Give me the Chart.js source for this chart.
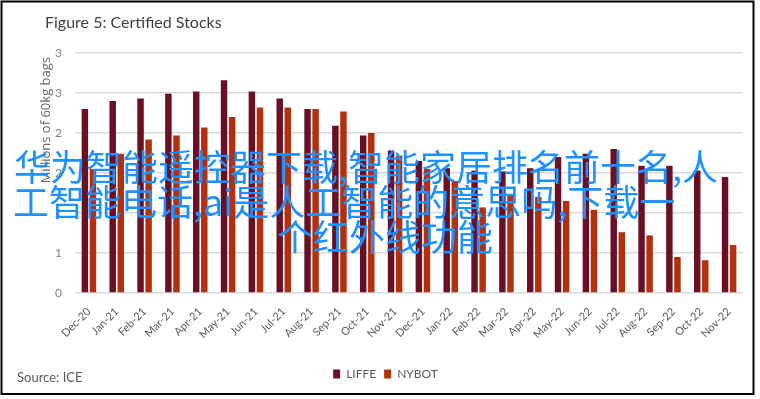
<!DOCTYPE html>
<html>
<head>
<meta charset="utf-8">
<script src="https://cdn.jsdelivr.net/npm/chart.js@4"></script>
<style>
  html, body { margin: 0; padding: 0; background: #fff; }
  #wrap { position: relative; width: 760px; height: 399px; }
  #overlay div {
    position: absolute;
    font-family: "Noto Sans CJK SC";
    font-size: 36px;
    line-height: 35px;
    color: #1e90ff;
    white-space: nowrap;
  }
</style>
</head>
<body>
<div id="wrap">
  <canvas id="stocks" width="760" height="399"></canvas>
  <div id="overlay">
    <div style="left:14px; top:148px">华为智能遥控器下载,智能家居排名前十名,人</div>
    <div style="left:13px; top:183px">工智能电话,ai是人工智能的意思吗,下载一</div>
    <div style="left:277px; top:218px">个红外线功能</div>
  </div>
</div>
<script>
// certified stocks, millions of 60kg bags
const months = ['Dec-20', 'Jan-21', 'Feb-21', 'Mar-21', 'Apr-21', 'May-21', 'Jun-21', 'Jul-21',
  'Aug-21', 'Sep-21', 'Oct-21', 'Nov-21', 'Dec-21', 'Jan-22', 'Feb-22', 'Mar-22', 'Apr-22',
  'May-22', 'Jun-22', 'Jul-22', 'Aug-22', 'Sep-22', 'Oct-22', 'Nov-22'];
const liffe = [2.30, 2.40, 2.43, 2.49, 2.52, 2.66, 2.52, 2.43, 2.30, 2.09, 1.97, 1.78,
  1.65, 1.56, 1.53, 1.52, 1.56, 1.70, 1.74, 1.80, 1.59, 1.59, 1.53, 1.45];
const nybot = [1.55, 1.74, 1.92, 1.97, 2.07, 2.20, 2.32, 2.32, 2.30, 2.27, 2.00, 1.72,
  1.55, 1.40, 1.07, 1.22, 1.20, 1.15, 1.04, 0.76, 0.72, 0.45, 0.41, 0.60];
const yMin = 0, yMax = 3, yStep = 0.5;

// title, axis title, source note and the outer frame
const decor = {
  id: 'decor',
  afterDraw(chart) {
    const ctx = chart.ctx;
    ctx.save();
    ctx.textBaseline = 'alphabetic';
    ctx.fillStyle = '#404040';
    ctx.font = '16px Lato';
    ctx.fillText('Figure 5: Certified Stocks', 45, 28);
    ctx.fillStyle = '#595959';
    ctx.font = '13px Lato';
    ctx.fillText('Source: ICE', 17, 382);
    ctx.strokeStyle = '#000';
    ctx.lineWidth = 2;
    ctx.strokeRect(1.5, 1.5, 752, 392.5);
    // y axis title, rotated, ending near the top gridline
    ctx.translate(50, 57);
    ctx.rotate(-Math.PI / 2);
    ctx.textAlign = 'right';
    ctx.fillStyle = '#666';
    ctx.font = '13px "Open Sans"';
    ctx.fillText('Millions of 60kg bags', 0, 0);
    ctx.restore();
  }
};

new Chart(document.getElementById('stocks'), {
  type: 'bar',
  data: {
    labels: months,
    datasets: [
      { label: 'LIFFE', data: liffe, backgroundColor: '#6b0f24' },
      { label: 'NYBOT', data: nybot, backgroundColor: '#b2300e' }
    ]
  },
  options: {
    responsive: false,
    animation: false,
    categoryPercentage: 0.58,
    barPercentage: 0.8,
    layout: { padding: { top: 53, right: 17, bottom: 9, left: 28 } },
    plugins: {
      legend: {
        position: 'bottom',
        labels: {
          boxWidth: 7,
          boxHeight: 9,
          padding: 8,
          color: '#595959',
          font: { family: 'Lato', size: 12 }
        }
      },
      tooltip: { enabled: false }
    },
    scales: {
      x: {
        grid: { display: false },
        border: { display: false },
        ticks: {
          autoSkip: false,
          minRotation: 45,
          maxRotation: 45,
          padding: 4,
          color: '#595959',
          font: { family: 'Lato', size: 11 }
        },
        afterFit: s => { s.height = 67; }
      },
      y: {
        min: yMin,
        max: yMax,
        grid: { color: '#d9d9d9', lineWidth: 1.5, drawTicks: false },
        border: { display: false },
        ticks: {
          stepSize: yStep,
          padding: 13,
          color: '#808080',
          font: { family: 'Lato', size: 12 },
          callback: v => Math.round(v)
        },
        afterFit: s => { s.width = 47; }
      }
    }
  },
  plugins: [decor]
});
</script>
</body>
</html>
